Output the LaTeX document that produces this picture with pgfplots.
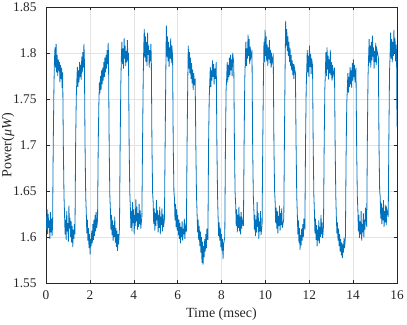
\documentclass[border=0pt]{standalone}
\usepackage{fontspec}
\setmainfont{Liberation Serif}
\usepackage{pgfplots}
\pgfplotsset{compat=1.18}
\definecolor{mblue}{HTML}{0072BD}
\definecolor{maxis}{HTML}{262626}
\definecolor{mgrid}{HTML}{E3E3E3}
\newcommand{\tickfont}{\fontsize{13.3bp}{16bp}\selectfont}
\newcommand{\labelfont}{\fontsize{14bp}{17bp}\selectfont}

\begin{document}
\begin{tikzpicture}
\path[use as bounding box] (-46bp,-42bp) rectangle (361bp,283bp);
\begin{axis}[
  scale only axis,
  width=351bp, height=276bp,
  xmin=0, xmax=16, ymin=1.55, ymax=1.85,
  xtick={0,2,4,6,8,10,12,14,16},
  ytick={1.55,1.6,1.65,1.7,1.75,1.8,1.85},
  yticklabels={1.55,1.6,1.65,1.7,1.75,1.8,1.85},
  xtick pos=both, ytick pos=both,
  xticklabel pos=lower, yticklabel pos=left,
  tick align=inside,
  major tick length=3.5bp,
  tick style={color=maxis, line width=0.5bp},
  axis line style={color=maxis, line width=0.6bp},
  grid=major,
  grid style={color=mgrid, line width=0.5bp},
  /pgf/number format/assume math mode=true,
  tick label style={font=\tickfont, text=maxis},
  xticklabel style={yshift=-4.5bp},
  yticklabel style={xshift=-6bp},
  xlabel={Time (msec)},
  ylabel={Power(\textit{μW})},
  label style={font=\labelfont, text=maxis},
  xlabel style={at={(axis description cs:0.5,0)}, anchor=north, yshift=-21bp},
  ylabel style={at={(axis description cs:-0.08,0.5)}, anchor=south, rotate=0},
]
\addplot[color=mblue, line width=0.8bp, mark=none] coordinates {
(0.000,1.622) (0.025,1.608) (0.05,1.630) (0.075,1.603) (0.10,1.625) (0.125,1.610) (0.15,1.618) (0.175,1.598) (0.20,1.627) (0.225,1.605) (0.25,1.620) (0.275,1.601) (0.30,1.612)
(0.33,1.70) (0.36,1.76)
(0.385,1.792) (0.41,1.806) (0.435,1.784) (0.46,1.810) (0.485,1.779) (0.51,1.798) (0.535,1.775) (0.56,1.793) (0.585,1.781) (0.61,1.790) (0.635,1.768) (0.66,1.787) (0.685,1.772) (0.71,1.784) (0.735,1.762) (0.76,1.779)
(0.79,1.70) (0.82,1.645)
(0.845,1.625) (0.87,1.603) (0.895,1.619) (0.92,1.597) (0.945,1.628) (0.97,1.606) (0.995,1.615) (1.02,1.595) (1.045,1.634) (1.07,1.609) (1.095,1.621) (1.12,1.600) (1.145,1.617) (1.17,1.594) (1.195,1.612) (1.22,1.589) (1.245,1.608) (1.27,1.598) (1.295,1.614) (1.32,1.603)
(1.35,1.70) (1.38,1.752)
(1.405,1.770) (1.43,1.785) (1.455,1.763) (1.48,1.781) (1.505,1.768) (1.53,1.790) (1.555,1.774) (1.58,1.787) (1.605,1.771) (1.63,1.796) (1.655,1.779) (1.68,1.801) (1.705,1.784) (1.73,1.810) (1.75,1.792)
(1.78,1.70) (1.81,1.645)
(1.835,1.628) (1.86,1.604) (1.885,1.619) (1.91,1.596) (1.935,1.610) (1.96,1.588) (1.985,1.603) (2.01,1.581) (2.035,1.598) (2.06,1.590) (2.085,1.607) (2.11,1.593) (2.135,1.614) (2.16,1.597) (2.185,1.619) (2.21,1.601) (2.235,1.624) (2.26,1.606) (2.285,1.627) (2.31,1.610) (2.35,1.618)
(2.38,1.70) (2.41,1.745)
(2.435,1.768) (2.46,1.756) (2.485,1.775) (2.51,1.760) (2.535,1.781) (2.56,1.766) (2.585,1.784) (2.61,1.770) (2.635,1.790) (2.66,1.774) (2.685,1.795) (2.71,1.779) (2.735,1.798) (2.76,1.783) (2.785,1.803) (2.81,1.788) (2.835,1.811) (2.85,1.795)
(2.88,1.70) (2.91,1.645)
(2.935,1.630) (2.96,1.608) (2.985,1.624) (3.01,1.602) (3.035,1.618) (3.06,1.596) (3.085,1.613) (3.11,1.600) (3.135,1.622) (3.16,1.594) (3.185,1.610) (3.21,1.589) (3.235,1.607) (3.26,1.585) (3.285,1.603) (3.31,1.592) (3.35,1.610)
(3.38,1.70) (3.41,1.765)
(3.435,1.795) (3.46,1.812) (3.485,1.788) (3.51,1.805) (3.535,1.783) (3.56,1.816) (3.585,1.794) (3.61,1.808) (3.635,1.786) (3.66,1.802) (3.685,1.790) (3.71,1.814) (3.735,1.792) (3.76,1.800)
(3.79,1.70) (3.82,1.648)
(3.845,1.632) (3.87,1.610) (3.895,1.628) (3.92,1.606) (3.945,1.638) (3.97,1.615) (3.995,1.630) (4.02,1.603) (4.045,1.624) (4.07,1.612) (4.095,1.641) (4.12,1.617) (4.145,1.633) (4.17,1.608) (4.195,1.626) (4.22,1.611) (4.245,1.636) (4.27,1.614) (4.295,1.629) (4.32,1.609) (4.37,1.622)
(4.40,1.70) (4.43,1.77)
(4.455,1.805) (4.48,1.826) (4.505,1.795) (4.53,1.818) (4.555,1.790) (4.58,1.812) (4.605,1.786) (4.63,1.822) (4.655,1.798) (4.68,1.808) (4.705,1.784) (4.73,1.803) (4.755,1.791) (4.78,1.810) (4.80,1.796)
(4.83,1.70) (4.86,1.648)
(4.885,1.638) (4.91,1.614) (4.935,1.631) (4.96,1.607) (4.985,1.626) (5.01,1.612) (5.035,1.640) (5.06,1.618) (5.085,1.629) (5.11,1.605) (5.135,1.624) (5.16,1.610) (5.185,1.633) (5.21,1.603) (5.235,1.622) (5.26,1.613) (5.285,1.631) (5.31,1.606) (5.335,1.625) (5.36,1.611) (5.40,1.620)
(5.43,1.70) (5.46,1.775)
(5.485,1.830) (5.51,1.796) (5.535,1.818) (5.56,1.791) (5.585,1.812) (5.61,1.785) (5.635,1.806) (5.66,1.794) (5.685,1.816) (5.71,1.789) (5.735,1.808) (5.77,1.797)
(5.80,1.70) (5.83,1.65)
(5.855,1.642) (5.88,1.618) (5.905,1.636) (5.93,1.611) (5.955,1.630) (5.98,1.607) (6.005,1.624) (6.03,1.602) (6.055,1.619) (6.08,1.598) (6.105,1.615) (6.13,1.593) (6.155,1.611) (6.18,1.600) (6.205,1.617) (6.23,1.596) (6.255,1.609) (6.28,1.603) (6.305,1.620) (6.33,1.598) (6.355,1.612) (6.40,1.606)
(6.43,1.70) (6.46,1.765)
(6.485,1.808) (6.51,1.783) (6.535,1.801) (6.56,1.778) (6.585,1.795) (6.61,1.772) (6.635,1.789) (6.66,1.767) (6.685,1.782) (6.71,1.760) (6.735,1.778) (6.76,1.765) (6.80,1.772)
(6.83,1.70) (6.86,1.645)
(6.885,1.627) (6.91,1.605) (6.935,1.619) (6.96,1.597) (6.985,1.612) (7.01,1.590) (7.035,1.606) (7.06,1.583) (7.085,1.600) (7.11,1.572) (7.135,1.595) (7.16,1.570) (7.185,1.590) (7.21,1.578) (7.235,1.598) (7.26,1.584) (7.285,1.603) (7.31,1.588) (7.335,1.609) (7.38,1.597)
(7.41,1.70) (7.44,1.75)
(7.465,1.768) (7.49,1.785) (7.515,1.763) (7.54,1.781) (7.565,1.770) (7.59,1.792) (7.615,1.774) (7.64,1.788) (7.665,1.766) (7.69,1.783) (7.715,1.772) (7.76,1.790)
(7.79,1.70) (7.82,1.645)
(7.845,1.622) (7.87,1.601) (7.895,1.616) (7.92,1.596) (7.945,1.610) (7.97,1.589) (7.995,1.603) (8.02,1.585) (8.045,1.598) (8.07,1.576) (8.095,1.592) (8.15,1.600)
(8.18,1.70) (8.21,1.76)
(8.235,1.772) (8.26,1.790) (8.285,1.768) (8.31,1.787) (8.335,1.774) (8.36,1.795) (8.385,1.776) (8.41,1.798) (8.435,1.781) (8.46,1.793) (8.485,1.775) (8.51,1.800) (8.56,1.788)
(8.59,1.70) (8.62,1.648)
(8.645,1.636) (8.67,1.612) (8.695,1.630) (8.72,1.605) (8.745,1.624) (8.77,1.610) (8.795,1.633) (8.82,1.606) (8.845,1.622) (8.87,1.603) (8.895,1.627) (8.92,1.609) (8.945,1.619) (9.00,1.612)
(9.03,1.70) (9.06,1.77)
(9.085,1.792) (9.11,1.812) (9.135,1.786) (9.16,1.805) (9.185,1.794) (9.21,1.820) (9.235,1.797) (9.26,1.815) (9.285,1.788) (9.31,1.807) (9.335,1.795) (9.39,1.803)
(9.42,1.70) (9.45,1.645)
(9.475,1.630) (9.50,1.608) (9.525,1.624) (9.55,1.601) (9.575,1.619) (9.60,1.605) (9.625,1.638) (9.65,1.611) (9.675,1.626) (9.70,1.598) (9.725,1.617) (9.75,1.606) (9.775,1.628) (9.80,1.602) (9.85,1.613)
(9.88,1.70) (9.91,1.77)
(9.935,1.812) (9.96,1.790) (9.985,1.825) (10.01,1.797) (10.035,1.818) (10.06,1.791) (10.085,1.809) (10.11,1.786) (10.135,1.806) (10.16,1.793) (10.185,1.814) (10.21,1.789) (10.235,1.803) (10.26,1.784) (10.285,1.800) (10.31,1.790) (10.36,1.796)
(10.39,1.70) (10.42,1.65)
(10.445,1.638) (10.47,1.615) (10.495,1.632) (10.52,1.609) (10.545,1.628) (10.57,1.604) (10.595,1.623) (10.62,1.612) (10.645,1.634) (10.67,1.607) (10.695,1.626) (10.72,1.613) (10.745,1.631) (10.77,1.610) (10.84,1.620)
(10.87,1.71) (10.90,1.785)
(10.925,1.835) (10.95,1.808) (10.975,1.826) (11.00,1.802) (11.025,1.818) (11.05,1.797) (11.075,1.812) (11.10,1.790) (11.125,1.805) (11.15,1.786) (11.175,1.798) (11.20,1.781) (11.225,1.792) (11.25,1.776) (11.275,1.788) (11.30,1.772) (11.325,1.784) (11.37,1.778)
(11.40,1.70) (11.43,1.645)
(11.455,1.626) (11.48,1.603) (11.505,1.618) (11.53,1.594) (11.555,1.610) (11.58,1.586) (11.605,1.602) (11.63,1.591) (11.655,1.609) (11.68,1.596) (11.705,1.614) (11.73,1.600) (11.755,1.620) (11.80,1.608)
(11.83,1.70) (11.86,1.76)
(11.885,1.782) (11.91,1.803) (11.935,1.779) (11.96,1.797) (11.985,1.774) (12.01,1.808) (12.035,1.785) (12.06,1.799) (12.085,1.777) (12.11,1.794) (12.15,1.786)
(12.18,1.70) (12.21,1.645)
(12.235,1.628) (12.26,1.604) (12.285,1.620) (12.31,1.597) (12.335,1.613) (12.36,1.590) (12.385,1.608) (12.41,1.596) (12.435,1.618) (12.46,1.593) (12.485,1.611) (12.51,1.600) (12.535,1.624) (12.56,1.603) (12.585,1.616) (12.61,1.599) (12.65,1.612)
(12.68,1.70) (12.71,1.76)
(12.735,1.779) (12.76,1.801) (12.785,1.775) (12.81,1.806) (12.835,1.782) (12.86,1.797) (12.885,1.771) (12.91,1.793) (12.935,1.778) (12.96,1.803) (12.985,1.776) (13.01,1.790) (13.035,1.770) (13.06,1.787) (13.085,1.775) (13.15,1.784)
(13.18,1.70) (13.21,1.645)
(13.235,1.622) (13.26,1.604) (13.285,1.616) (13.31,1.596) (13.335,1.609) (13.36,1.590) (13.385,1.603) (13.41,1.584) (13.435,1.598) (13.46,1.580) (13.485,1.594) (13.51,1.577) (13.535,1.592) (13.56,1.583) (13.585,1.599) (13.61,1.588) (13.65,1.601)
(13.68,1.69) (13.71,1.745)
(13.735,1.760) (13.76,1.778) (13.785,1.757) (13.81,1.774) (13.835,1.763) (13.86,1.785) (13.885,1.766) (13.91,1.781) (13.935,1.762) (13.96,1.789) (13.985,1.770) (14.01,1.793) (14.035,1.774) (14.06,1.787) (14.085,1.768) (14.13,1.784)
(14.16,1.70) (14.19,1.645)
(14.215,1.630) (14.24,1.606) (14.265,1.624) (14.29,1.599) (14.315,1.617) (14.34,1.603) (14.365,1.628) (14.39,1.596) (14.415,1.614) (14.44,1.605) (14.465,1.626) (14.49,1.600) (14.515,1.619) (14.54,1.608) (14.565,1.632) (14.62,1.611)
(14.65,1.71) (14.68,1.775)
(14.705,1.795) (14.73,1.815) (14.755,1.789) (14.78,1.808) (14.805,1.784) (14.83,1.812) (14.855,1.792) (14.88,1.819) (14.905,1.796) (14.93,1.806) (14.955,1.783) (14.98,1.802) (15.005,1.790) (15.03,1.811) (15.055,1.787) (15.08,1.804) (15.15,1.795)
(15.18,1.70) (15.21,1.65)
(15.235,1.644) (15.26,1.620) (15.285,1.637) (15.31,1.614) (15.335,1.632) (15.36,1.618) (15.385,1.640) (15.41,1.611) (15.435,1.628) (15.46,1.616) (15.485,1.635) (15.51,1.613) (15.535,1.630) (15.60,1.622)
(15.63,1.71) (15.66,1.78)
(15.685,1.798) (15.71,1.822) (15.735,1.794) (15.76,1.815) (15.785,1.790) (15.81,1.812) (15.835,1.797) (15.86,1.825) (15.885,1.800) (15.91,1.816) (15.935,1.791) (15.96,1.809) (15.98,1.800)
(16.00,1.72)
};
\end{axis}
\end{tikzpicture}
\end{document}
